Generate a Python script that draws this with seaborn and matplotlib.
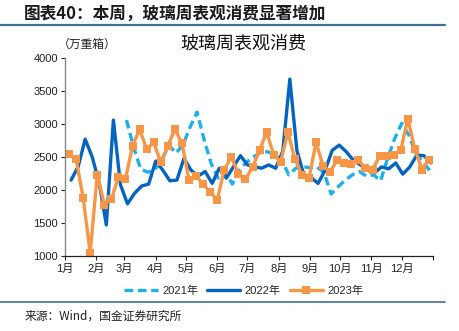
import numpy as np
import pandas as pd
import matplotlib
matplotlib.use("Agg")
import matplotlib.pyplot as plt
import seaborn as sns

# ---- data (weekly apparent consumption, 万重箱) ----
months = ["1月", "2月", "3月", "4月", "5月", "6月", "7月", "8月", "9月", "10月", "11月", "12月"]
month_start_days = [0, 31, 59, 90, 120, 151, 181, 212, 243, 273, 304, 334, 365]

v2021 = [3060, 2650, 2320, 2270, 2310, 2450, 2680, 2560, 2680, 2950, 3180, 2760,
         2400, 2180, 2280, 2090, 2300, 2420, 2500, 2570, 2580, 2530, 2450, 2230,
         2330, 2350, 2340, 2350, 2260, 1940, 2050, 2150, 2230, 2280, 2210, 2230,
         2140, 2480, 2780, 3010, 2830, 2550, 2430, 2290]
start2021 = 61

v2022 = [2150, 2350, 2770, 2500, 2100, 1470, 3060, 2080, 1790, 1950, 2060, 2090,
         2440, 2300, 2140, 2150, 2480, 2300, 2210, 2280, 2100, 2330, 2180, 2350,
         2520, 2380, 2350, 2330, 2380, 2330, 2590, 3680, 2600, 2220, 2190, 2100,
         2300, 2600, 2680, 2580, 2450, 2380, 2300, 2260, 2350, 2320, 2410, 2240,
         2350, 2530, 2520, 2410]
start2022 = 6

v2023 = [2540, 2470, 1880, 1050, 2230, 1780, 1860, 2200, 2170, 2670, 2920, 2620,
         2720, 2420, 2670, 2920, 2710, 2150, 2210, 2090, 1970, 1850, 2310, 2500,
         2250, 2160, 2350, 2600, 2880, 2530, 2430, 2880, 2470, 2230, 2180, 2720,
         2360, 2280, 2450, 2410, 2390, 2450, 2330, 2310, 2510, 2510, 2530, 2600,
         3080, 2620, 2310, 2460]
start2023 = 4

labels = ["2021年", "2022年", "2023年"]

def frame(vals, start, label):
    return pd.DataFrame({"day": start + 7 * np.arange(len(vals)),
                         "value": vals, "year": label})

df21 = frame(v2021, start2021, labels[0])
df22 = frame(v2022, start2022, labels[1])
df23 = frame(v2023, start2023, labels[2])

sns.set_theme(style="white")
plt.rcParams["font.family"] = ["Liberation Sans", "Noto Sans CJK SC", "DejaVu Sans"]
plt.rcParams["axes.unicode_minus"] = False

W, H = 460, 331
fig = plt.figure(figsize=(W / 100, H / 100), dpi=100)
ax = fig.add_axes([65 / W, 1 - 256 / H, (433 - 65) / W, (256 - 58) / H])

c21, c22, c23 = "#1CB0EC", "#0563C1", "#F79646"
sns.lineplot(data=df21, x="day", y="value", ax=ax, color=c21, lw=2.4,
             label=labels[0])
ax.lines[-1].set_dashes([2.6, 1.4])
sns.lineplot(data=df22, x="day", y="value", ax=ax, color=c22, lw=2.4,
             label=labels[1])
sns.lineplot(data=df23, x="day", y="value", ax=ax, color=c23, lw=2.4,
             marker="s", markersize=5.5, markeredgewidth=0, label=labels[2])

ax.set_xlim(0, 365)
ax.set_ylim(1000, 4000)
ax.set_yticks(np.arange(1000, 4001, 500))
ax.set_xticks(month_start_days)
ax.set_xticklabels(months + [""], ha="center")
ax.set_xlabel("")
ax.set_ylabel("")
ax.tick_params(axis="both", labelsize=8, colors="#222222", length=3,
               width=0.8, direction="out", pad=2)
ax.tick_params(axis="x", pad=3)
ax.tick_params(left=True, bottom=True)
for s in ["top", "right"]:
    ax.spines[s].set_visible(False)
ax.spines["left"].set_color("#888888")
ax.spines["left"].set_linewidth(1.0)
ax.spines["bottom"].set_color("#222222")
ax.spines["bottom"].set_linewidth(0.9)
ax.grid(False)

h, l = ax.get_legend_handles_labels()
ax.get_legend().remove()
fig.legend(h, l, loc="center", bbox_to_anchor=(244 / W, 1 - 291 / H), ncol=3,
           frameon=False, fontsize=8, handlelength=3.0, columnspacing=0.8,
           handletextpad=0.4)

cjk = ["Noto Sans CJK SC", "DejaVu Sans"]
fig.text(24 / W, 1 - 14 / H, "图表40：本周，玻璃周表观消费显著增加", family=cjk,
         fontsize=12, fontweight="bold", color="#1a1a1a", va="center", ha="left",
         style="italic")
fig.add_artist(plt.Line2D([0, 445 / W], [1 - 25 / H, 1 - 25 / H], color="#3F6F91",
                          lw=1.6))
fig.text(58 / W, 1 - 44 / H, "（万重箱）", family=cjk, fontsize=8.5,
         color="#222222", va="center", ha="left")
fig.text(243 / W, 1 - 44 / H, "玻璃周表观消费", family=cjk, fontsize=13,
         color="#111111", va="center", ha="center")
fig.add_artist(plt.Line2D([0, 445 / W], [1 - 302 / H, 1 - 302 / H], color="#3F6F91",
                          lw=1.2))
fig.text(25 / W, 1 - 316 / H, "来源：Wind，国金证券研究所", family=cjk, fontsize=8.5,
         color="#222222", va="center", ha="left")

fig.savefig("out.png", dpi=100)
